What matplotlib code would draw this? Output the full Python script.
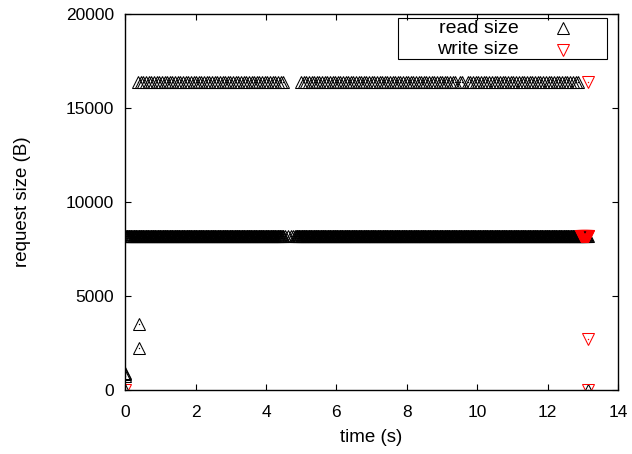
import numpy as np
import matplotlib
matplotlib.use("Agg")
import matplotlib.pyplot as plt

plt.rcParams['font.family'] = ['Liberation Sans', 'DejaVu Sans']

# Request trace: runs of equal-size requests given as (start s, end s, count, size B)
read_runs_start = [0.00, 4.83, 0.37, 5.00, 9.80]
read_runs_end = [4.49, 13.15, 4.49, 9.30, 12.87]
read_runs_count = [225, 417, 56, 59, 41]
read_runs_size = [8192, 8192, 16384, 16384, 16384]

# Isolated read requests
read_t = [4.55, 4.62, 4.70, 4.77, 9.37, 9.50, 9.57, 9.74, 0.0, 0.0, 0.0, 0.0, 0.40, 0.40, 13.15]
read_b = [8192, 8192, 8192, 8192, 16384, 16384, 16384, 16384, 750, 850, 900, 0, 3500, 2250, 0]

# Write requests
write_runs_start = [12.95]
write_runs_end = [13.15]
write_runs_count = [21]
write_runs_size = [8192]
write_t = [0.0, 13.15, 13.15, 13.15]
write_b = [0, 16384, 2700, 0]


def expand(starts, ends, counts, sizes, t_extra, b_extra):
    ts, bs = [], []
    for s, e, n, b in zip(starts, ends, counts, sizes):
        ts.append(np.linspace(s, e, n))
        bs.append(np.full(n, b))
    ts.append(np.asarray(t_extra, float))
    bs.append(np.asarray(b_extra, float))
    return np.concatenate(ts), np.concatenate(bs)


rt, rb = expand(read_runs_start, read_runs_end, read_runs_count, read_runs_size, read_t, read_b)
wt, wb = expand(write_runs_start, write_runs_end, write_runs_count, write_runs_size, write_t, write_b)

fig = plt.figure(figsize=(6.32, 4.54), dpi=100)
ax = fig.add_axes([0.198, 0.141, 0.780, 0.828])

ms = 8
mew = 0.75
ax.plot(rt, rb, linestyle='none', marker='^', ms=ms, mfc='none', mec='black', mew=mew)
ax.plot(rt, rb, linestyle='none', marker='o', ms=1.0, mfc='black', mec='none')
ax.plot(wt, wb, linestyle='none', marker='v', ms=ms, mfc='none', mec='red', mew=mew)
ax.plot(wt, wb, linestyle='none', marker='o', ms=1.0, mfc='red', mec='none')

ax.set_xlim(0, 14)
ax.set_ylim(0, 20000)
ax.set_xticks(np.arange(0, 15, 2))
ax.set_yticks(np.arange(0, 20001, 5000))
ax.tick_params(direction='in', length=4.5, width=0.8, top=True, right=True, labelsize=12.5)
ax.tick_params(axis='y', pad=8)
ax.tick_params(axis='x', pad=11)
for sp in ax.spines.values():
    sp.set_linewidth(1.0)

ax.set_xlabel('time (s)', fontsize=13.5, labelpad=6)
ax.set_ylabel('request size (B)', fontsize=13.5, labelpad=25)

# Key box in the top-right corner
box = plt.Rectangle((0.554, 0.880), 0.424, 0.109, transform=ax.transAxes,
                    fill=False, edgecolor='black', linewidth=0.8, zorder=5)
ax.add_patch(box)
ax.text(0.799, 0.962, 'read size', transform=ax.transAxes, ha='right', va='center', fontsize=14)
ax.text(0.799, 0.905, 'write size', transform=ax.transAxes, ha='right', va='center', fontsize=14)
ax.plot([0.888], [0.962], transform=ax.transAxes, marker='^', ms=ms, mfc='none', mec='black', mew=mew)
ax.plot([0.888], [0.905], transform=ax.transAxes, marker='v', ms=ms, mfc='none', mec='red', mew=mew)

fig.savefig('out.png', dpi=100)
